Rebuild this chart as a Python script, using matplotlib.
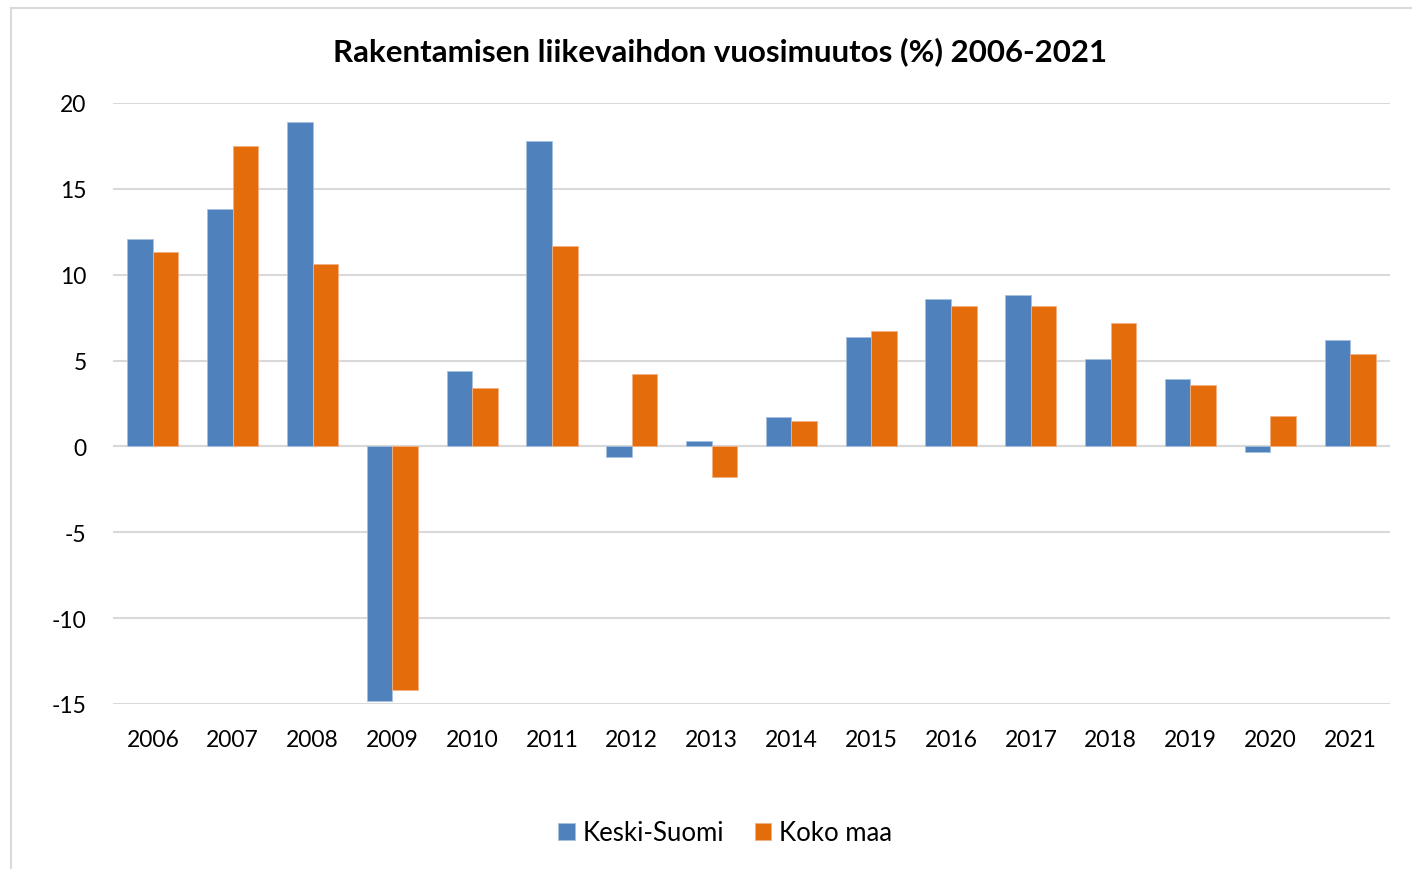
import numpy as np
import matplotlib.pyplot as plt
from matplotlib.patches import Rectangle

# Values
years = ['2006', '2007', '2008', '2009', '2010', '2011', '2012', '2013',
         '2014', '2015', '2016', '2017', '2018', '2019', '2020', '2021']
keski_suomi = [12.1, 13.8, 18.9, -14.8, 4.4, 17.8, -0.6, 0.3,
               1.7, 6.4, 8.6, 8.8, 5.1, 3.9, -0.3, 6.2]
koko_maa = [11.3, 17.5, 10.6, -14.2, 3.4, 11.7, 4.2, -1.8,
            1.5, 6.7, 8.2, 8.2, 7.2, 3.6, 1.8, 5.4]

plt.rcParams['font.family'] = ['Lato', 'DejaVu Sans']
plt.rcParams['axes.unicode_minus'] = False

W, H = 1412, 870
fig = plt.figure(figsize=(W / 100, H / 100), dpi=100)

# chart border (top and left visible, rest cropped)
fig.patches.append(Rectangle((10.5 / W, -0.1), 1.2, 1.1 - 8.5 / H,
                             transform=fig.transFigure, fill=False,
                             edgecolor='#D9D9D9', linewidth=1.5))

ax = fig.add_axes([113 / W, 1 - 705 / H, (1390 - 113) / W, (705 - 104) / H])

x = np.arange(len(years))
w = 0.32
ax.bar(x - w / 2, keski_suomi, w, color='#4F81BD', edgecolor='#A7C0E0',
       linewidth=0.6, label='Keski-Suomi', zorder=3)
ax.bar(x + w / 2, koko_maa, w, color='#E46C0A', edgecolor='#F2B183',
       linewidth=0.6, label='Koko maa', zorder=3)

ax.set_xlim(-0.5, len(years) - 0.5)
ax.set_ylim(-15, 20)
ax.set_yticks(range(-15, 21, 5))
ax.yaxis.grid(True, color='#D9D9D9', linewidth=1.5, zorder=0)
ax.axhline(0, color='#D9D9D9', linewidth=1.5, zorder=2)

for s in ax.spines.values():
    s.set_visible(False)
ax.tick_params(length=0, labelsize=16.5, colors='black')
ax.tick_params(axis='y', pad=19)
ax.set_xticks(x)
ax.set_xticklabels(years)
ax.tick_params(axis='x', pad=18)

fig.text(720 / W, 1 - 52 / H, 'Rakentamisen liikevaihdon vuosimuutos (%) 2006-2021',
         ha='center', va='center', fontsize=22.5, fontweight='bold')

fig.legend(loc='center', bbox_to_anchor=(725 / W, 1 - 834 / H), ncol=2,
           frameon=False, fontsize=18.5, handlelength=0.65, handleheight=0.65,
           handletextpad=0.3, columnspacing=1.2)

fig.savefig('out.png', dpi=100, facecolor='white')
